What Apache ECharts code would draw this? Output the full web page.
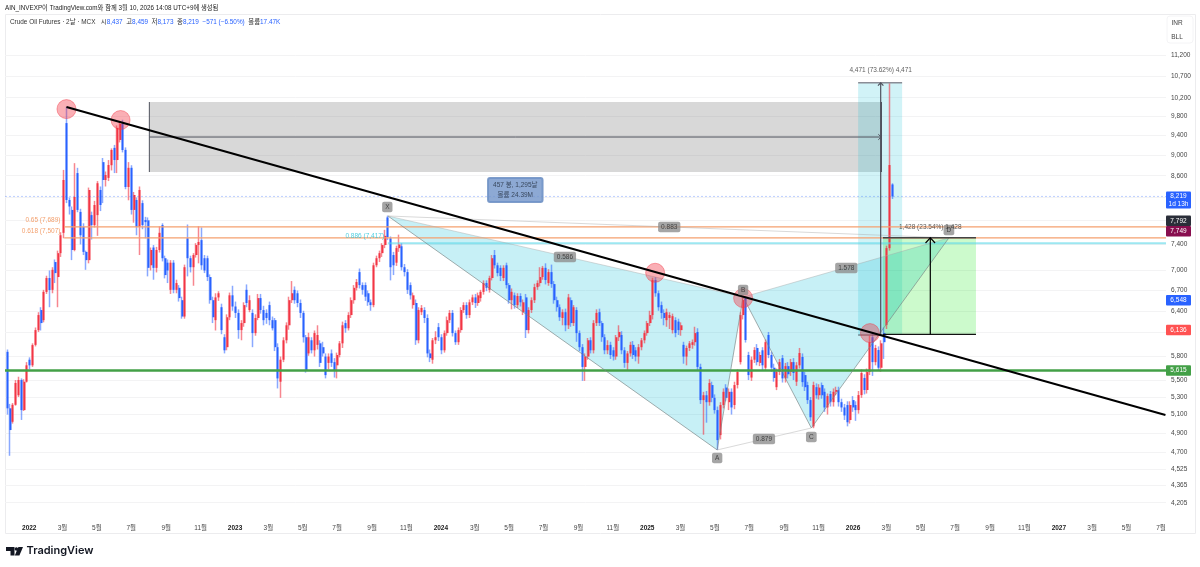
<!DOCTYPE html>
<html lang="ko">
<head>
<meta charset="utf-8">
<title>Crude Oil Futures</title>
<style>html,body{margin:0;padding:0;background:#fff}#chart{width:1200px;height:567px}</style>
<script src="https://cdn.jsdelivr.net/npm/echarts@6/dist/echarts.min.js"></script>
</head>
<body>
<div id="chart"></div>
<script>
// Candles: [open, close, low, high], one row per bar
const candles2021to2022 = [
[5850,5170,5100,5880],[5170,4930,4660,5220],[5020,5210,5000,5230],[5210,5465,5200,5500],[5320,5500,5300,5540],
[5500,5150,5040,5520],[5150,5480,5140,5510],[5480,5680,5470,5720],[5750,5680,5630,5780],[5680,5937,5660,5960],
[5940,6135,5920,6170],[6135,6340,6110,6380],[6410,6230,6130,6450],[6270,6670,6240,6700],[6670,6875,6640,6910],
[6875,6697,6450,6990],[6700,7000,6650,7040],[7120,6950,6800,7160],[6890,7260,6450,7300],[7260,7550,7200,7600],
[7590,8520,7500,8710],[9650,8155,8100,10000],[8155,8040,7900,8200],[7980,7310,7150,8040],[7310,8210,7290,8840],
[8650,7980,7940,8750],[7945,7550,7400,8000],[7690,7280,7230,7750],[7280,7150,7000,7300],[7150,8336,7100,8380],
[7890,7720,7480,7950],[7720,8066,7680,8140],[7890,8460,7540,8500],[8336,8066,7960,8400],[8860,8520,8100,8940],
[8520,8614,8400,8680],[8560,8804,8500,8900],[8800,9098,8700,9130],[9140,8900,8650,9200],[8900,9550,8650,9600],
[9300,9630,9250,9680],[9630,9098,9050,9720],[9100,8390,8350,9150],[8390,8750,8150,8860],[8750,7980,7900,8800],
[7980,8245,7760,8300],[8155,7690,7550,8200],[7690,8336,7230,8400],[8100,7720,7650,8150],[7805,7770,7500,7860],
[7800,7030,6900,7850],[7070,7310,6990,7350],[7350,7030,6850,7390],[7030,7310,6960,7360],[7310,7590,7270,7700],
[7720,7180,7130,7750],[7180,6920,6870,7220],[7110,6990,6800,7160],[6700,7110,6640,7150],[7110,6700,6650,7150],
[6700,6800,6650,6850],[6730,6580,6530,6770],[6550,6320,6290,6600],[6320,7040,6290,7080],[7500,7180,6900,7730],
[7180,7040,6960,7220],[7040,7230,6760,7260],[7230,7390,7190,7420],[7390,7440,7100,7700],[7470,7070,7000,7680],
[7180,6990,6950,7230],[7180,6890,6830,7220],[6890,6550,6500,6930],[6550,6310,6230,6600],[6270,6590,6130,6650],
[6590,6650,6540,6680],[6450,6135,6080,6500],[6040,5870,5830,6080],[5910,6310,5870,6350],[6310,6620,6270,6660],
[6620,6460,6400,6760],[6460,6370,6300,6530]
];
const candles2023 = [
[6370,6135,6020,6420],[6135,6230,6000,6270],[6230,6480,6180,6520],[6700,6510,6450,6780],[6410,6550,6380,6620],
[6370,6095,5910,6420],[6095,6300,6060,6350],[6300,6580,6270,6640],[6580,6410,6360,6640],[6410,6270,6200,6470],
[6370,6300,6220,6420],[6480,6270,6200,6530],[6270,6160,6130,6320],[6270,5910,5860,6300],[5910,5520,5400,5960],
[5480,5750,5290,5790],[5750,6000,5720,6040],[6000,6200,5960,6240],[6200,6550,6140,6600],[6550,6650,6510,6830],
[6700,6550,6500,6750],[6650,6510,6450,6690],[6510,6370,6300,6560],[6370,6040,5970,6400],[6040,5620,5590,6070],
[5830,6040,5800,6100],[6000,5870,5830,6040],[5870,6095,5790,6130],[5940,6070,5880,6200],[5960,5710,5660,6000],
[5910,5830,5790,5980],[5790,5560,5520,5830],[5710,5790,5630,5830],[5830,5710,5660,5880],[5720,5620,5530,5770],
[5680,5810,5520,5840],[5810,5960,5780,5990],[5960,6200,5900,6250],[6230,6160,6100,6270],[6160,6340,6130,6380],
[6340,6550,6300,6590],[6550,6730,6500,6770],[6730,6815,6690,6860],[6965,6770,6720,7020],[6770,6700,6630,6810],
[6770,6600,6540,6810],[6650,6520,6470,6690],[6520,6480,6400,6560],[6480,7070,6450,7110],[7070,7180,7040,7220],
[7180,7260,7120,7300],[7260,7390,7200,7420],[7390,7540,7340,7640],[7850,7520,7470,7880],[7500,7040,6840,7530],
[7230,7070,6920,7280],[7110,7340,7060,7380],[7340,7400,7280,7560],[7370,7040,6990,7420],[7040,6965,6900,7090],
[6965,6700,6640,7010],[6770,6620,6560,6810],[6480,6620,6430,6660],[6510,6000,5940,6560],[6000,6410,5960,6450],
[6380,6440,6340,6480],[6410,6300,6230,6450],[6300,5830,5780,6350],[5830,5770,5720,5880],[5750,6000,5700,6030],
[6000,6040,5950,6120],[6175,6040,5990,6230],[6040,5870,5820,6080]
];
const candles2024 = [
[5870,6095,5840,6130],[6095,6270,6060,6320],[6270,6370,6230,6410],[6370,6095,6050,6410],[6095,5975,5940,6130],
[5975,6135,5940,6170],[6135,6410,6100,6450],[6410,6480,6370,6520],[6480,6340,6290,6520],[6340,6520,6300,6560],
[6520,6590,6480,6630],[6590,6510,6440,6640],[6510,6620,6470,6660],[6580,6670,6530,6700],[6670,6800,6630,6840],
[6800,6730,6680,6840],[6700,6875,6660,6910],[6875,7180,6840,7230],[7230,7070,7020,7310],[7070,6950,6900,7110],
[7030,6905,6830,7070],[6875,7030,6830,7070],[7070,6770,6720,7110],[6770,6550,6500,6800],[6550,6670,6420,6720],
[6620,6480,6430,6660],[6480,6610,6440,6650],[6610,6520,6460,6650],[6380,6520,6340,6560],[6590,6135,6030,6640],
[6135,6410,6090,6450],[6410,6550,6370,6590],[6550,6740,6510,6790],[6740,6800,6700,6840],[6800,6890,6750,7040],
[6890,7030,6850,7060],[7030,6845,6780,7100],[6800,6965,6760,7010],[6965,6785,6730,7080],[6785,6550,6500,6830],
[6550,6450,6390,6600],[6450,6310,6260,6490],[6300,6380,6200,6420],[6380,6200,6120,6430],[6200,6590,6150,6640],
[6550,6230,6180,6590],[6230,6450,6190,6480],[6410,6095,5980,6450],[6095,5910,5860,6130],[5910,5660,5490,5950],
[5660,5790,5490,5830],[5790,6000,5750,6030],[6000,5870,5830,6040],[5870,6230,5830,6270],[6230,6370,6190,6420],
[6380,6230,6190,6430],[6230,6040,5980,6260],[6040,5870,5820,6080],[5870,5937,5820,6000],[5940,5810,5760,5980],
[5870,5790,5740,5910],[5790,6040,5750,6070],[6040,6110,5990,6200],[6070,5870,5820,6120],[5870,5710,5650,5910],
[5710,5830,5620,5860],[5830,5940,5790,5980],[5940,5810,5760,5990],[5870,5790,5730,5910],[5790,5910,5700,5950],
[5910,6000,5870,6030],[6000,6095,5960,6130],[6095,6230,6060,6260]
];
const candles2025 = [
[6230,6340,6190,6400],[6340,6845,6280,6880],[6845,6650,6600,6890],[6650,6450,6400,6690],[6480,6370,6290,6530],
[6370,6300,6200,6420],[6270,6380,6180,6430],[6300,6340,6150,6380],[6135,6325,6090,6360],[6270,6095,6040,6310],
[6250,6135,6070,6290],[6135,6200,6060,6240],[5940,5790,5700,5980],[5790,5900,5680,5930],[5900,5960,5860,5990],
[5940,5975,5890,6010],[5975,6095,5930,6180],[6110,5660,5620,6160],[5660,5264,5220,5700],[5264,5320,4880,5360],
[5320,5240,5010,5370],[5240,5465,5200,5510],[5440,5290,5240,5480],[5290,5150,5110,5330],[5150,4823,4720,5190],
[4876,5207,4830,5240],[5207,5360,5170,5400],[5410,5290,5250,5450],[5240,5360,5150,5400],[5360,5180,5100,5400],
[5207,5440,5160,5480],[5440,5597,5400,5630],[5720,6340,5690,6380],[6340,6552,6280,6600],[6590,6003,5970,6600],
[5810,5560,5500,5850],[5530,5750,5490,5790],[5750,5873,5710,5910],[5900,5720,5680,5950],[5710,5810,5670,5850],
[5870,5680,5620,5910],[5650,5975,5610,6010],[6070,5810,5770,6110],[5810,5650,5600,5850],[5650,5525,5480,5700],
[5415,5600,5380,5640],[5600,5720,5560,5760],[5770,5520,5470,5810],[5520,5670,5470,5710],[5670,5570,5520,5720],
[5600,5720,5550,5760],[5720,5585,5500,5770],[5480,5680,5430,5720],[5680,5835,5640,5900],[5785,5475,5420,5830],
[5560,5415,5370,5600],[5440,5264,5220,5480],[5264,5070,5030,5300],[4970,5440,4950,5480],[5415,5320,5280,5460],
[5320,5410,5270,5450],[5440,5320,5280,5470],[5360,5180,5130,5400],[5180,5310,5100,5340],[5335,5240,5190,5370],
[5240,5360,5190,5400],[5360,5381,5320,5420],[5381,5240,5190,5420],[5240,5180,5130,5280],[5180,5090,5040,5220],
[5207,5015,4970,5250],[5039,5207,5000,5250],[5264,5180,5130,5310]
];
const candles2026 = [
[5207,5150,5030,5250],[5150,5322,5110,5370],[5322,5585,5290,5630],[5525,5381,5330,5570],[5381,5597,5340,5640],
[5597,5975,5560,6060],[6040,5720,5550,6100],[5720,5900,5680,5940],[5873,5650,5610,5920],[5650,5960,5600,6000],
[6095,5975,5760,6170],[6203,7340,6150,7380],[7340,8804,7300,10530],[8437,8219,8173,8459]
];

const firstBarDate = '2021-11-23';
const barStepDays = 5;

// Pattern pivots and drawing anchors: [date, price]
const pointX = ['2023-09-29', 7875];
const pointA = ['2025-05-05', 4720];
const pointB = ['2025-06-20', 6595];
const pointC = ['2025-10-19', 4952];
const pointD = ['2026-06-20', 7507];
const trendStart = ['2022-03-08', 9996];
const trendEnd = ['2027-07-09', 5095];
const touchDates = ['2022-03-08', '2022-06-12', '2025-01-15', '2025-06-20', '2026-01-31'];
const touchPrices = [9950, 9715, 6955, 6580, 6095];

const fibLevels = [7689, 7507];
const fibLabels = ['0.65 (7,689)', '0.618 (7,507)'];
const retraceLevel = 7417;
const supportLevel = 5615;
const lastPrice = 8219;

const rangeBox = { from: '2022-08-02', to: '2026-02-20', high: 10105, low: 8670 };
const gainBox = { from: '2026-01-10', to: '2026-03-29', arrow: '2026-02-19', high: 10540, low: 6069 };
const targetBox = { from: '2026-02-23', to: '2026-08-07', arrow: '2026-05-18', high: 7507, low: 6079 };

// Axis ticks
const axisStart = '2021-11-19';
const axisEnd = '2027-07-10';
const priceTicks = [11200,10700,10200,9800,9400,9000,8600,7400,7000,6700,6400,5800,5500,5300,5100,4900,4700,4525,4365,4205];
const hiddenGridPrices = [8200,7800,6100];
const timeTickDates = ['2022-01-01','2022-03-01','2022-05-01','2022-07-01','2022-09-01','2022-11-01','2023-01-01','2023-03-01','2023-05-01','2023-07-01','2023-09-01','2023-11-01','2024-01-01','2024-03-01','2024-05-01','2024-07-01','2024-09-01','2024-11-01','2025-01-01','2025-03-01','2025-05-01','2025-07-01','2025-09-01','2025-11-01','2026-01-01','2026-03-01','2026-05-01','2026-07-01','2026-09-01','2026-11-01','2027-01-01','2027-03-01','2027-05-01','2027-07-01'];
const timeTickLabels = ['2022','3월','5월','7월','9월','11월','2023','3월','5월','7월','9월','11월','2024','3월','5월','7월','9월','11월','2025','3월','5월','7월','9월','11월','2026','3월','5월','7월','9월','11월','2027','3월','5월','7월'];

// Price tags on the right scale
const tagPrices = [8219, 7792, 7749, 6548, 6136, 5615];
const tagTexts = ['8,219\n1d 13h', '7,792', '7,749', '6,548', '6,136', '5,615'];
const tagColors = ['#2962ff', '#2a2e39', '#880e4f', '#2962ff', '#ff5252', '#43a047'];
const tagShifts = [3.5, 0, 8, 0, 0, 0];

const FONT = '"Liberation Sans","Noto Sans CJK KR",sans-serif';
const day = s => Date.parse(s + 'T00:00:00Z');
const at = p => [day(p[0]), p[1]];

const allCandles = [].concat(candles2021to2022, candles2023, candles2024, candles2025, candles2026);
const barTimes = allCandles.map((_, i) => day(firstBarDate) + i * barStepDays * 86400000);
const wickData = allCandles.map((c, i) => [barTimes[i], c[0], c[1], c[2], c[3]]);
const bodyData = allCandles.map((c, i) =>
  [barTimes[i], c[0], c[1], Math.min(c[0], c[1]), Math.max(c[0], c[1])]);

const UP = '#f23645', DOWN = '#2962ff';
const UP_WICK = 'rgba(242,54,69,0.6)', DOWN_WICK = 'rgba(41,98,255,0.55)';

// Filled areas, drawn beneath the candles
const zones = [
  { pts: [pointX, pointA, pointB], fill: 'rgba(0,188,212,0.22)' },
  { pts: [pointB, pointC, pointD], fill: 'rgba(0,188,212,0.22)' },
  { pts: [[rangeBox.from, rangeBox.high], [rangeBox.to, rangeBox.high], [rangeBox.to, rangeBox.low], [rangeBox.from, rangeBox.low]], fill: 'rgba(125,125,125,0.3)' },
  { pts: [[gainBox.from, gainBox.high], [gainBox.to, gainBox.high], [gainBox.to, gainBox.low], [gainBox.from, gainBox.low]], fill: 'rgba(0,188,212,0.18)' },
  { pts: [[targetBox.from, targetBox.high], [targetBox.to, targetBox.high], [targetBox.to, targetBox.low], [targetBox.from, targetBox.low]], fill: 'rgba(0,230,0,0.2)' }
];

const edge = 'rgba(120,130,130,0.65)', faint = 'rgba(170,170,170,0.45)', dark = '#50535e';
const rangeMid = Math.sqrt(rangeBox.high * rangeBox.low);
const strokes = [
  { a: ['2022-03-04', fibLevels[0]], b: [axisEnd, fibLevels[0]], color: '#f5a06f', w: 1.3 },
  { a: ['2022-03-04', fibLevels[1]], b: [axisEnd, fibLevels[1]], color: '#f5a06f', w: 1.3 },
  { a: [pointX[0], retraceLevel], b: [axisEnd, retraceLevel], color: 'rgba(90,215,232,0.6)', w: 2 },
  { a: [axisStart, supportLevel], b: [axisEnd, supportLevel], color: '#43a047', w: 2.5 },
  { a: [axisStart, lastPrice], b: [axisEnd, lastPrice], color: 'rgba(41,98,255,0.3)', w: 1, dash: [2, 2] },
  { a: pointX, b: pointA, color: edge, w: 1 },
  { a: pointA, b: pointB, color: edge, w: 1 },
  { a: pointB, b: pointC, color: edge, w: 1 },
  { a: pointC, b: pointD, color: edge, w: 1 },
  { a: pointX, b: pointB, color: faint, w: 1 },
  { a: pointB, b: pointD, color: faint, w: 1 },
  { a: pointA, b: pointC, color: faint, w: 1 },
  { a: pointX, b: pointD, color: faint, w: 1 },
  { a: [rangeBox.from, rangeBox.high], b: [rangeBox.from, rangeBox.low], color: dark, w: 1 },
  { a: [rangeBox.to, rangeBox.high], b: [rangeBox.to, rangeBox.low], color: dark, w: 1.5 },
  { a: [rangeBox.from, rangeMid], b: [rangeBox.to, rangeMid], color: dark, w: 1, head: 4 },
  { a: [gainBox.from, gainBox.high], b: [gainBox.to, gainBox.high], color: '#8a8d96', w: 1.6 },
  { a: [gainBox.from, gainBox.low], b: [targetBox.from, gainBox.low], color: dark, w: 1 },
  { a: [gainBox.arrow, gainBox.low], b: [gainBox.arrow, gainBox.high], color: dark, w: 1.2, head: 4 },
  { a: [targetBox.from, targetBox.high], b: [targetBox.to, targetBox.high], color: '#444', w: 1.5 },
  { a: [targetBox.from, targetBox.low], b: [targetBox.to, targetBox.low], color: '#111', w: 1.2 },
  { a: [targetBox.arrow, targetBox.low], b: [targetBox.arrow, targetBox.high], color: '#000', w: 1.2, head: 7 }
];
const trendStroke = { a: trendStart, b: trendEnd, color: '#000', w: 2 };

// Badges and captions placed on the chart
const badge = { backgroundColor: '#8f8f8f', color: '#2b2b2b', borderRadius: 2, padding: [2, 3], fontSize: 6.5, fontFamily: FONT };
const plain = { color: '#333', fontSize: 6.5, fontFamily: FONT };
const notes = [
  { p: ['2023-09-28', 8030], text: 'X', style: badge },
  { p: ['2025-05-05', 4637], text: 'A', style: badge },
  { p: ['2025-06-20', 6697], text: 'B', style: badge },
  { p: ['2025-10-19', 4855], text: 'C', style: badge },
  { p: ['2026-06-20', 7636], text: 'D', style: badge },
  { p: ['2024-08-08', 7198], text: '0.586', style: badge },
  { p: ['2025-02-09', 7686], text: '0.883', style: badge },
  { p: ['2025-12-20', 7027], text: '1.578', style: badge },
  { p: ['2025-07-27', 4834], text: '0.879', style: badge },
  { p: ['2026-02-19', 10838], text: '4,471 (73.62%) 4,471', style: plain },
  { p: ['2026-05-18', 7686], text: '1,428 (23.54%) 1,428', style: plain },
  { p: ['2024-05-12', 8336], text: '457 봉, 1,295날\n볼륨 24.39M',
    style: { backgroundColor: '#7093c9', color: '#1f2a3a', borderRadius: 2, padding: [2, 5], fontSize: 6.5, lineHeight: 10, fontFamily: FONT, borderColor: '#5f84bd', borderWidth: 1 } },
  { p: ['2022-02-28', 7805], text: fibLabels[0], style: { color: '#f08a4b', fontSize: 6.5, fontFamily: FONT }, anchor: 'left' },
  { p: ['2022-02-28', 7620], text: fibLabels[1], style: { color: '#f08a4b', fontSize: 6.5, fontFamily: FONT }, anchor: 'left' },
  { p: ['2023-09-25', 7537], text: '0.886 (7,417)', style: { color: '#22c3d8', fontSize: 6.5, fontFamily: FONT }, anchor: 'left' }
];

function strokeShapes(s, api) {
  const a = api.coord(at(s.a)), b = api.coord(at(s.b));
  const style = { stroke: s.color, lineWidth: s.w, fill: null, lineDash: s.dash || null };
  const out = [{ type: 'polyline', shape: { points: [a, b] }, style }];
  if (s.head) {
    const ang = Math.atan2(b[1] - a[1], b[0] - a[0]);
    const wing = d => [b[0] - s.head * Math.cos(ang + d), b[1] - s.head * Math.sin(ang + d)];
    out.push({ type: 'polyline', shape: { points: [wing(0.75), b, wing(-0.75)] }, style });
  }
  return out;
}

const chart = echarts.init(document.getElementById('chart'), null, { renderer: 'canvas' });

chart.setOption({
  animation: false,
  backgroundColor: '#fff',
  grid: { left: 5, top: 14, width: 1161, height: 504, containLabel: false },
  xAxis: {
    type: 'value', min: day(axisStart), max: day(axisEnd),
    axisLine: { show: false }, axisTick: { show: false }, splitLine: { show: false },
    axisLabel: {
      customValues: timeTickDates.map(day),
      margin: 7,
      hideOverlap: false,
      color: '#444', fontSize: 6.5, fontFamily: FONT,
      formatter: v => {
        const text = timeTickLabels[timeTickDates.map(day).indexOf(v)];
        return /^\d{4}$/.test(text) ? '{y|' + text + '}' : text;
      },
      rich: { y: { color: '#222', fontSize: 6.5, fontWeight: 'bold', fontFamily: FONT } }
    }
  },
  yAxis: {
    type: 'log', logBase: 10, min: 4067, max: 12251, position: 'right',
    axisLine: { show: false },
    axisTick: { show: false, customValues: priceTicks.concat(hiddenGridPrices) },
    splitLine: { show: true, lineStyle: { color: '#f3f3f4', width: 1 } },
    axisLabel: {
      customValues: priceTicks, margin: 5, color: '#444', fontSize: 6.5, fontFamily: FONT,
      formatter: v => Math.round(v).toLocaleString('en-US')
    }
  },
  graphic: {
    elements: [
      { type: 'rect', silent: true, z: -10, shape: { x: 5.5, y: 14.5, width: 1190, height: 519 },
        style: { fill: 'none', stroke: '#ececee', lineWidth: 1 } },
      { type: 'rect', silent: true, shape: { x: 1167, y: 16, width: 26, height: 27, r: 3 },
        style: { fill: '#fff', stroke: '#f4f4f6' } },
      { type: 'text', silent: true, x: 1177, y: 23, style: { text: 'INR', fill: '#444', fontSize: 6.5, fontFamily: FONT, align: 'center', verticalAlign: 'middle' } },
      { type: 'text', silent: true, x: 1177, y: 37, style: { text: 'BLL', fill: '#444', fontSize: 6.5, fontFamily: FONT, align: 'center', verticalAlign: 'middle' } },
      { type: 'text', silent: true, x: 5, y: 8, style: {
        text: 'AIN_INVEXP이 TradingView.com와 함께 3월 10, 2026 14:08 UTC+9에 생성됨',
        fill: '#222', fontSize: 6.3, fontFamily: FONT, verticalAlign: 'middle' } },
      { type: 'text', silent: true, x: 10, y: 22, style: {
        text: '{d|Crude Oil Futures · 2날 · MCX   시}{v|8,437}{d|  고}{v|8,459}{d|  저}{v|8,173}{d|  종}{v|8,219}{v|  −571 (−6.50%)}{d|  볼륨}{v|17.47K}',
        verticalAlign: 'middle',
        rich: { d: { fill: '#333', fontSize: 6.4, fontFamily: FONT }, v: { fill: '#2962ff', fontSize: 6.4, fontFamily: FONT } } } },
      { type: 'polygon', silent: true, shape: { points: [[6,547],[14.5,547],[14.5,555.5],[10.5,555.5],[10.5,551],[6,551]] }, style: { fill: '#131722' } },
      { type: 'polygon', silent: true, shape: { points: [[23,547],[19.4,555.5],[14.8,555.5],[18.4,547]] }, style: { fill: '#131722' } },
      { type: 'circle', silent: true, shape: { cx: 16.4, cy: 549, r: 1.8 }, style: { fill: '#131722' } },
      { type: 'text', silent: true, x: 26.5, y: 551, style: { text: 'TradingView', fill: '#131722', fontSize: 11, fontWeight: 600, fontFamily: 'Inter,sans-serif', verticalAlign: 'middle' } }
    ]
  },
  series: [
    {
      name: 'zones', type: 'custom', z: 1, silent: true, clip: false,
      data: zones.map(z => at(z.pts[0])),
      encode: { x: 0, y: 1 },
      renderItem: (params, api) => ({
        type: 'polygon',
        shape: { points: zones[params.dataIndex].pts.map(p => api.coord(at(p))) },
        style: { fill: zones[params.dataIndex].fill }
      })
    },
    {
      name: 'wicks', type: 'candlestick', z: 3, silent: true, barWidth: 1,
      data: wickData, encode: { x: 0, y: [1, 2, 3, 4] },
      itemStyle: { color: UP_WICK, color0: DOWN_WICK, borderColor: UP_WICK, borderColor0: DOWN_WICK, borderWidth: 1.5 }
    },
    {
      name: 'bodies', type: 'candlestick', z: 4, silent: true, barWidth: 2.5,
      data: bodyData, encode: { x: 0, y: [1, 2, 3, 4] },
      itemStyle: { color: UP, color0: DOWN, borderColor: UP, borderColor0: DOWN, borderWidth: 0 }
    },
    {
      name: 'drawings', type: 'custom', z: 5, silent: true, clip: false,
      data: strokes.map(s => at(s.a)),
      encode: { x: 0, y: 1 },
      renderItem: (params, api) => ({ type: 'group', children: strokeShapes(strokes[params.dataIndex], api) })
    },
    {
      name: 'touches', type: 'scatter', z: 6, silent: true, symbol: 'circle', symbolSize: 19,
      data: touchDates.map((d, i) => [day(d), touchPrices[i]]),
      itemStyle: { color: 'rgba(242,54,69,0.5)', borderColor: 'rgba(242,54,69,0.55)', borderWidth: 1 }
    },
    {
      name: 'trend', type: 'custom', z: 7, silent: true, clip: false,
      data: [at(trendStroke.a)],
      encode: { x: 0, y: 1 },
      renderItem: (params, api) => ({ type: 'group', children: strokeShapes(trendStroke, api) })
    },
    {
      name: 'notes', type: 'scatter', z: 8, silent: true, symbolSize: 1, itemStyle: { color: 'transparent' },
      data: notes.map(n => ({
        value: at(n.p),
        label: Object.assign({ show: true, position: n.anchor || 'inside', distance: 1, formatter: () => n.text, align: n.anchor ? 'right' : 'center', verticalAlign: 'middle' }, n.style)
      }))
    },
    {
      name: 'priceTags', type: 'custom', z: 9, silent: true, clip: false,
      data: tagPrices.map(p => [day(axisEnd), p]),
      encode: { x: 0, y: 1 },
      renderItem: (params, api) => {
        const i = params.dataIndex;
        const y = api.coord([day(axisEnd), tagPrices[i]])[1] + tagShifts[i];
        const x = params.coordSys.x + params.coordSys.width;
        const h = tagTexts[i].includes('\n') ? 17 : 10.5;
        return {
          type: 'group',
          children: [
            { type: 'rect', shape: { x: x, y: y - h / 2, width: 25, height: h, r: 1 }, style: { fill: tagColors[i] } },
            { type: 'text', x: x + 12.5, y: y, style: { text: tagTexts[i], fill: '#fff', fontSize: 6.5, lineHeight: 8, fontFamily: FONT, align: 'center', verticalAlign: 'middle' } }
          ]
        };
      }
    }
  ]
});
</script>
</body>
</html>
